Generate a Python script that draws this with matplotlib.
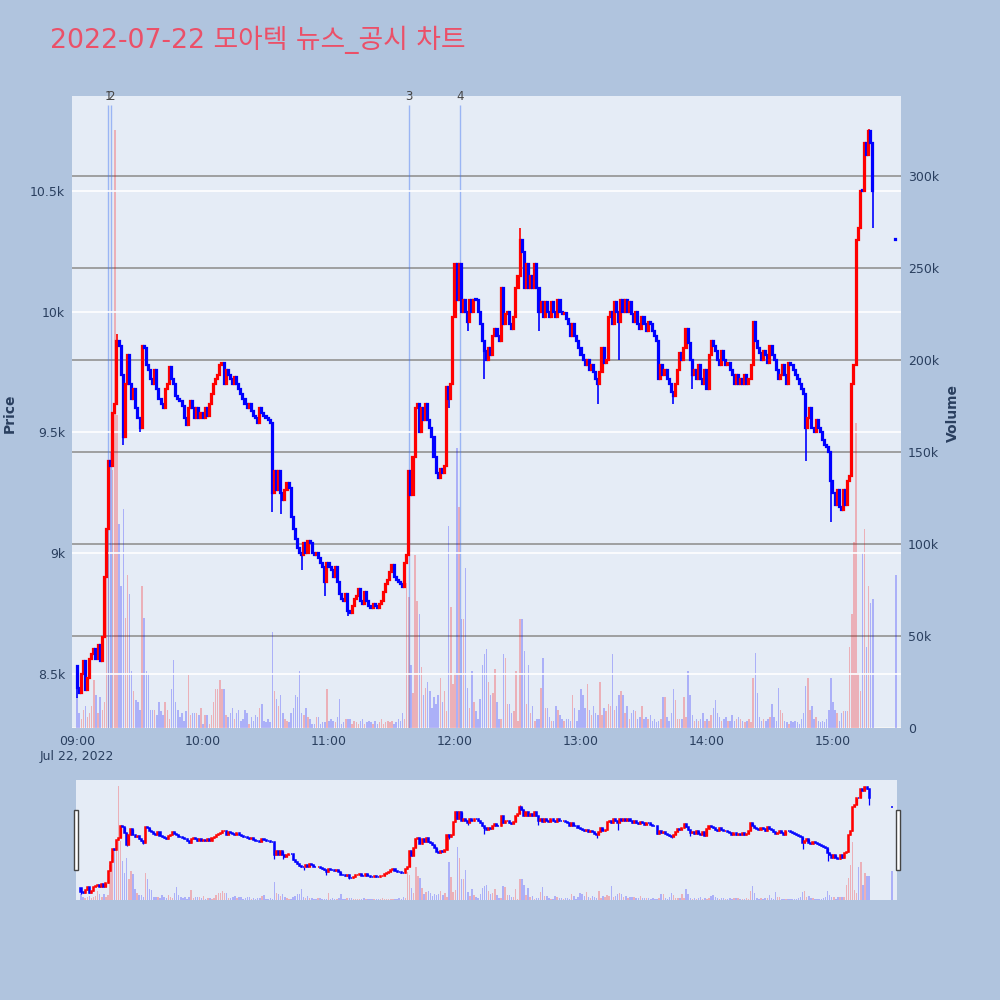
import numpy as np
import matplotlib
matplotlib.use("Agg")
import matplotlib.pyplot as plt
from matplotlib.patches import Rectangle
from matplotlib.transforms import blended_transform_factory

# 1분봉 종가 (09:00 ~ 15:19), 10분씩 한 줄
close_rows = [
    [8440, 8420, 8500, 8550, 8430, 8480, 8560, 8580, 8600, 8560],
    [8620, 8550, 8650, 8900, 9100, 9380, 9360, 9580, 9620, 9880],
    [9860, 9740, 9480, 9700, 9820, 9700, 9640, 9680, 9600, 9560],
    [9520, 9860, 9850, 9780, 9760, 9720, 9700, 9760, 9680, 9640],
    [9620, 9600, 9680, 9700, 9770, 9720, 9700, 9650, 9640, 9630],
    [9610, 9560, 9530, 9600, 9630, 9600, 9560, 9600, 9560, 9580],
    [9560, 9600, 9570, 9620, 9660, 9700, 9720, 9740, 9780, 9790],
    [9700, 9760, 9740, 9720, 9700, 9730, 9700, 9680, 9660, 9640],
    [9620, 9600, 9620, 9590, 9570, 9560, 9540, 9600, 9580, 9570],
    [9560, 9550, 9540, 9250, 9340, 9260, 9340, 9250, 9220, 9260],
    [9290, 9270, 9150, 9100, 9060, 9020, 9000, 8990, 9040, 9000],
    [9050, 9040, 9000, 8990, 9000, 8980, 8960, 8940, 8880, 8960],
    [8940, 8930, 8900, 8940, 8880, 8830, 8810, 8800, 8830, 8760],
    [8750, 8780, 8810, 8820, 8850, 8800, 8790, 8840, 8800, 8780],
    [8770, 8790, 8780, 8770, 8790, 8800, 8840, 8870, 8890, 8920],
    [8950, 8900, 8890, 8880, 8870, 8860, 8960, 8990, 9340, 9240],
    [9400, 9600, 9620, 9500, 9600, 9550, 9620, 9550, 9520, 9480],
    [9400, 9330, 9310, 9350, 9330, 9360, 9690, 9640, 9700, 9980],
    [10200, 10050, 10200, 10000, 10050, 10000, 9960, 10050, 10000, 10050],
    [10050, 10000, 9950, 9880, 9840, 9800, 9850, 9820, 9900, 9930],
    [9900, 9880, 10100, 9950, 9990, 10000, 9950, 9930, 9980, 10100],
    [10150, 10300, 10250, 10100, 10200, 10100, 10150, 10100, 10200, 10100],
    [10000, 10040, 9980, 10040, 10000, 9980, 10040, 10000, 9980, 10050],
    [10000, 9990, 9995, 9970, 9950, 9900, 9950, 9900, 9880, 9850],
    [9820, 9800, 9780, 9800, 9760, 9780, 9750, 9720, 9700, 9750],
    [9850, 9790, 9800, 9980, 10000, 9950, 10040, 10000, 9960, 10050],
    [10000, 10050, 10000, 10040, 9990, 9960, 10000, 9950, 9930, 9980],
    [9950, 9920, 9960, 9950, 9920, 9900, 9880, 9720, 9780, 9740],
    [9760, 9720, 9700, 9670, 9650, 9700, 9760, 9830, 9800, 9850],
    [9930, 9870, 9800, 9740, 9760, 9720, 9780, 9720, 9700, 9760],
    [9680, 9820, 9880, 9860, 9840, 9800, 9780, 9840, 9800, 9780],
    [9790, 9760, 9740, 9700, 9740, 9700, 9720, 9700, 9740, 9700],
    [9720, 9780, 9960, 9880, 9850, 9830, 9800, 9840, 9820, 9790],
    [9860, 9820, 9800, 9760, 9720, 9740, 9780, 9740, 9700, 9790],
    [9780, 9760, 9740, 9720, 9700, 9680, 9660, 9520, 9560, 9600],
    [9520, 9500, 9550, 9520, 9500, 9470, 9450, 9440, 9420, 9300],
    [9250, 9200, 9260, 9190, 9180, 9260, 9200, 9300, 9320, 9700],
    [9780, 10300, 10350, 10500, 10500, 10700, 10650, 10750, 10700, 10500],
]
first_open = 8530

# 꼬리 (분: 가격)
wick_low = {0: 8400, 22: 9450, 30: 9500, 93: 9170, 97: 9160, 107: 8930, 118: 8820,
            129: 8740, 177: 9600, 186: 9920, 194: 9720, 220: 9920, 248: 9620,
            258: 9800, 284: 9620, 293: 9680, 347: 9380, 359: 9130, 379: 10350}
wick_high = {211: 10350, 377: 10760, 19: 9910}

# 거래량 (천주)
vol_rows = [
    [17, 8, 5, 10, 12, 6, 8, 12, 26, 18],
    [8, 17, 10, 14, 100, 130, 150, 140, 325, 170],
    [111, 77, 119, 60, 83, 73, 31, 20, 15, 14],
    [10, 77, 60, 31, 30, 10, 10, 10, 7, 14],
    [9, 7, 14, 10, 5, 21, 37, 14, 10, 6],
    [8, 4, 9, 29, 7, 8, 8, 8, 7, 11],
    [2, 7, 7, 2, 7, 14, 21, 21, 26, 21],
    [21, 7, 6, 8, 11, 5, 8, 10, 4, 5],
    [10, 8, 2, 6, 4, 7, 6, 11, 13, 4],
    [3, 5, 3, 52, 20, 16, 12, 18, 8, 5],
    [4, 3, 8, 11, 18, 17, 31, 8, 7, 11],
    [6, 5, 2, 2, 6, 6, 2, 3, 3, 21],
    [4, 5, 4, 3, 6, 16, 2, 3, 5, 5],
    [5, 2, 4, 3, 2, 4, 5, 2, 3, 4],
    [3, 2, 4, 2, 3, 5, 2, 3, 4, 3],
    [4, 2, 3, 5, 4, 8, 5, 79, 71, 34],
    [19, 94, 69, 62, 33, 18, 22, 25, 20, 11],
    [17, 13, 18, 27, 14, 20, 9, 110, 66, 24],
    [30, 152, 120, 59, 59, 87, 22, 11, 31, 14],
    [9, 5, 16, 34, 40, 43, 25, 18, 19, 32],
    [14, 5, 5, 40, 38, 13, 13, 8, 9, 31],
    [4, 59, 59, 42, 13, 34, 8, 12, 4, 5],
    [5, 22, 38, 11, 11, 6, 4, 4, 12, 10],
    [7, 5, 4, 5, 5, 4, 18, 11, 4, 10],
    [21, 18, 11, 24, 10, 7, 12, 8, 7, 25],
    [7, 11, 9, 13, 12, 40, 10, 12, 18, 20],
    [18, 8, 12, 5, 8, 10, 9, 5, 6, 12],
    [5, 6, 5, 7, 4, 5, 3, 4, 5, 17],
    [17, 6, 4, 8, 21, 15, 5, 5, 5, 17],
    [6, 31, 18, 7, 4, 5, 4, 5, 8, 4],
    [5, 4, 7, 11, 15, 8, 6, 4, 5, 6],
    [4, 4, 7, 4, 5, 6, 5, 4, 3, 4],
    [5, 3, 27, 41, 19, 6, 4, 5, 4, 5],
    [6, 13, 6, 4, 22, 10, 8, 4, 3, 2],
    [4, 3, 4, 3, 2, 5, 8, 23, 27, 10],
    [12, 5, 6, 4, 3, 4, 3, 5, 10, 27],
    [14, 10, 8, 4, 8, 9, 9, 9, 44, 62],
    [101, 166, 30, 20, 95, 108, 44, 77, 68, 70],
]

# 15:30 종가 단일가
close_auction = 10300
vol_auction = 83

# 뉴스/공시 시각 (09:00 기준 분)
news_min = [14.8, 16.2, 158.1, 182.4]
news_lbl = ["1", "2", "3", "4"]

hour_ticks = [0, 60, 120, 180, 240, 300, 360]
hour_lbls = ["09:00\nJul 22, 2022", "10:00", "11:00", "12:00", "13:00", "14:00", "15:00"]
price_ticks = [8500, 9000, 9500, 10000, 10500]
price_lbls = ["8.5k", "9k", "9.5k", "10k", "10.5k"]
vol_ticks = [0, 50000, 100000, 150000, 200000, 250000, 300000]
vol_lbls = ["0", "50k", "100k", "150k", "200k", "250k", "300k"]

# ---- OHLC 구성 ----
closes = np.array(sum(close_rows, []), dtype=float)
opens = np.r_[first_open, closes[:-1]]
highs = np.maximum(opens, closes)
lows = np.minimum(opens, closes)
for k, v in wick_low.items():
    lows[k] = min(lows[k], v)
for k, v in wick_high.items():
    highs[k] = max(highs[k], v)
mins = np.arange(len(closes), dtype=float)

closes = np.r_[closes, close_auction]
opens = np.r_[opens, close_auction]
highs = np.r_[highs, close_auction]
lows = np.r_[lows, close_auction]
mins = np.r_[mins, 390]
vols = np.r_[np.array(sum(vol_rows, []), dtype=float), vol_auction] * 1000

up = closes > opens
c_colors = np.where(up, "#FF0000", "#0000FF")
v_colors = [(1, 0, 0, 0.25) if u else (0, 0, 1, 0.25) for u in up]

PAPER = "#B0C4DE"
PLOT = "#E5ECF6"
TXT = "#2a3f5f"
XLIM = (-2.4, 392.4)
PLIM = (8274, 10896)
VLIM = (0, 343500)

fig = plt.figure(figsize=(10, 10), dpi=100, facecolor=PAPER)


def draw_candles(ax, wick_lw, body_w, body_lw):
    ax.vlines(mins, lows, highs, colors=c_colors, lw=wick_lw, zorder=3)
    h = np.maximum(np.abs(closes - opens), 4)
    ax.bar(mins, h, bottom=np.minimum(opens, closes), width=body_w,
           color=c_colors, edgecolor=c_colors, lw=body_lw, zorder=3)


# ---- 메인 차트 ----
axv = fig.add_axes([0.072, 0.272, 0.829, 0.632], facecolor=PLOT)
axv.bar(mins, vols, width=0.7, color=v_colors, lw=0, zorder=2)
axv.set_ylim(*VLIM)
axv.set_xlim(*XLIM)
axv.grid(True, axis="y", color="#999999", lw=1.3)
axv.set_axisbelow(True)
axv.axhline(0, color="white", lw=2, zorder=1)
axv.set_xticks(hour_ticks)
axv.set_xticklabels(hour_lbls)
for lab in axv.get_xticklabels():
    lab.set_horizontalalignment("center")
axv.vlines(news_min, 0, 338600, colors=[(0.25, 0.45, 0.95, 0.45)], lw=1, zorder=2)

axp = axv.twinx()
axp.set_ylim(*PLIM)
axp.set_xlim(*XLIM)
axp.grid(True, axis="y", color="white", lw=1.2)
draw_candles(axp, 1.2, 0.5, 1.6)

# 좌: 가격, 우: 거래량
axp.yaxis.tick_left()
axp.set_yticks(price_ticks)
axp.set_yticklabels(price_lbls)
axv.yaxis.tick_right()
axv.set_yticks(vol_ticks)
axv.set_yticklabels(vol_lbls)

trans = blended_transform_factory(axp.transData, axp.transAxes)
for m, s in zip(news_min, news_lbl):
    axp.text(m, 1.0, s, transform=trans, ha="center", va="center",
             fontsize=8.5, color="#444444")

for a in (axv, axp):
    for sp in a.spines.values():
        sp.set_visible(False)
    a.tick_params(length=0, labelsize=9, labelcolor=TXT, pad=5)

fig.text(0.010, 0.587, "Price", rotation=90, fontsize=10, fontweight="bold",
         color=TXT, ha="center", va="center")
fig.text(0.953, 0.587, "Volume", rotation=90, fontsize=10, fontweight="bold",
         color=TXT, ha="center", va="center")

# ---- 범위 슬라이더 ----
sv = fig.add_axes([0.076, 0.100, 0.821, 0.120], facecolor=PLOT)
sv.bar(mins, vols, width=0.7, color=v_colors, lw=0)
sv.set_ylim(*VLIM)
sv.set_xlim(*XLIM)
sp_ = sv.twinx()
sp_.set_ylim(*PLIM)
sp_.set_xlim(*XLIM)
draw_candles(sp_, 0.9, 0.5, 1.1)
for a in (sv, sp_):
    a.set_xticks([])
    a.set_yticks([])
    for s in a.spines.values():
        s.set_visible(False)

for x0 in (0.0735, 0.8955):
    fig.patches.append(Rectangle((x0, 0.130), 0.004, 0.060, transform=fig.transFigure,
                                 facecolor="white", edgecolor="#444444", lw=1))

fig.text(0.05, 0.96, "2022-07-22 모아텍 뉴스_공시 차트", fontsize=19.3,
         color="#EB5068", va="center", ha="left",
         family=["DejaVu Sans", "Noto Sans CJK KR"])

fig.savefig("out.png", dpi=100, facecolor=PAPER)
